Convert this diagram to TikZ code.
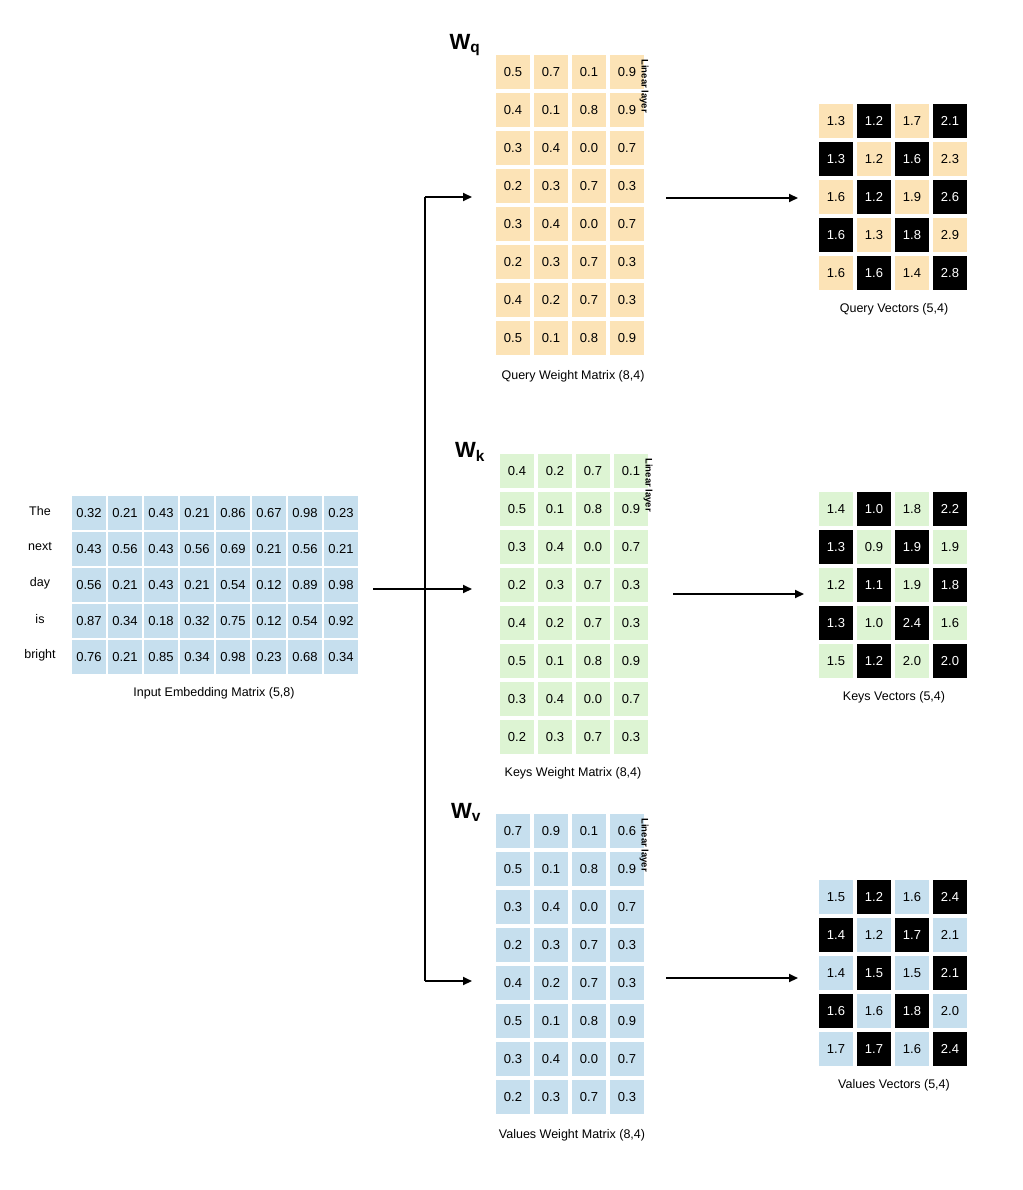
\documentclass[tikz,border=0pt]{standalone}
\usepackage{fontspec}
\setmainfont{Liberation Sans}
\usetikzlibrary{arrows.meta}
\definecolor{cy}{HTML}{FCE3B6}
\definecolor{cg}{HTML}{DDF4D3}
\definecolor{cb}{HTML}{C6DFEE}
\tikzset{
 cell/.style={minimum width=34pt,minimum height=34pt,inner sep=0pt,font=\fontsize{13}{15}\selectfont,draw=none},
 lbl/.style={font=\fontsize{12.5}{15}\selectfont},
 conn/.style={line width=2pt,-{Triangle[length=9pt,width=8pt]}},
 wl/.style={font=\fontsize{22}{24}\selectfont\bfseries},
 lin/.style={rotate=-90,font=\fontsize{9.5}{11}\selectfont\bfseries,anchor=north west}
}
% #1 name, #2 x0 center, #3 y0 center, #4 color, #5 rows list
\newcommand{\wmat}[5]{%
 \foreach \row [count=\r] in {#5}{%
  \foreach \v [count=\c] in \row{%
   \node[cell,fill=#4] (#1-\r-\c) at ({#2+(\c-1)*38},{#3+(\r-1)*38}) {\v};
  }}}
\newcommand{\vmat}[5]{%
 \foreach \row [count=\r] in {#5}{%
  \foreach \v [count=\c] in \row{%
   \pgfmathtruncatemacro{\odd}{mod(\r+\c,2)}
   \ifnum\odd=1
    \node[cell,fill=black,text=white] (#1-\r-\c) at ({#2+(\c-1)*38},{#3+(\r-1)*38}) {\v};
   \else
    \node[cell,fill=#4] (#1-\r-\c) at ({#2+(\c-1)*38},{#3+(\r-1)*38}) {\v};
   \fi
  }}}
\begin{document}
\begin{tikzpicture}[x=1pt,y=-1pt]
\useasboundingbox (0,0) rectangle (1022,1190);
% input
\foreach \row [count=\r] in {{0.32,0.21,0.43,0.21,0.86,0.67,0.98,0.23},{0.43,0.56,0.43,0.56,0.69,0.21,0.56,0.21},{0.56,0.21,0.43,0.21,0.54,0.12,0.89,0.98},{0.87,0.34,0.18,0.32,0.75,0.12,0.54,0.92},{0.76,0.21,0.85,0.34,0.98,0.23,0.68,0.34}}{%
 \foreach \v [count=\c] in \row{%
  \node[cell,fill=cb] (in-\r-\c) at ({89+(\c-1)*36},{513+(\r-1)*36}) {\v};
 }}
\foreach \w [count=\r] in {The,next,day,is,bright}
 \node[lbl] (word\r) at (40,{511+(\r-1)*36}) {\w};
\node[lbl] (inlab) at (214,693) {Input Embedding Matrix (5,8)};
% weight matrices
\wmat{q}{513}{72}{cy}{{0.5,0.7,0.1,0.9},{0.4,0.1,0.8,0.9},{0.3,0.4,0.0,0.7},{0.2,0.3,0.7,0.3},{0.3,0.4,0.0,0.7},{0.2,0.3,0.7,0.3},{0.4,0.2,0.7,0.3},{0.5,0.1,0.8,0.9}}
\wmat{k}{517}{471}{cg}{{0.4,0.2,0.7,0.1},{0.5,0.1,0.8,0.9},{0.3,0.4,0.0,0.7},{0.2,0.3,0.7,0.3},{0.4,0.2,0.7,0.3},{0.5,0.1,0.8,0.9},{0.3,0.4,0.0,0.7},{0.2,0.3,0.7,0.3}}
\wmat{v}{513}{831}{cb}{{0.7,0.9,0.1,0.6},{0.5,0.1,0.8,0.9},{0.3,0.4,0.0,0.7},{0.2,0.3,0.7,0.3},{0.4,0.2,0.7,0.3},{0.5,0.1,0.8,0.9},{0.3,0.4,0.0,0.7},{0.2,0.3,0.7,0.3}}
\node[lbl] (qlab) at (573,376) {Query Weight Matrix (8,4)};
\node[lbl] (klab) at (573,773) {Keys Weight Matrix (8,4)};
\node[lbl] (vlab) at (572,1135) {Values Weight Matrix (8,4)};
\node[wl] (wq) at (465,45) {W\textsubscript{q}};
\node[wl] (wk) at (470,452) {W\textsubscript{k}};
\node[wl] (wv) at (466,812) {W\textsubscript{v}};
\node[lin] (lq) at (652,56) {Linear layer};
\node[lin] (lk) at (656,455) {Linear layer};
\node[lin] (lv) at (652,815) {Linear layer};
% vectors
\vmat{qv}{836}{121}{cy}{{1.3,1.2,1.7,2.1},{1.3,1.2,1.6,2.3},{1.6,1.2,1.9,2.6},{1.6,1.3,1.8,2.9},{1.6,1.6,1.4,2.8}}
\vmat{kv}{836}{509}{cg}{{1.4,1.0,1.8,2.2},{1.3,0.9,1.9,1.9},{1.2,1.1,1.9,1.8},{1.3,1.0,2.4,1.6},{1.5,1.2,2.0,2.0}}
\vmat{vv}{836}{897}{cb}{{1.5,1.2,1.6,2.4},{1.4,1.2,1.7,2.1},{1.4,1.5,1.5,2.1},{1.6,1.6,1.8,2.0},{1.7,1.7,1.6,2.4}}
\node[lbl] (qvl) at (894,309) {Query Vectors (5,4)};
\node[lbl] (kvl) at (894,697) {Keys Vectors (5,4)};
\node[lbl] (vvl) at (894,1085) {Values Vectors (5,4)};
% connectors
\coordinate (s) at (373,589);
\coordinate (j) at (425,589);
\coordinate (jt) at (425,197);
\coordinate (jb) at (425,981);
\coordinate (qa) at (472,197);
\coordinate (ka) at (472,589);
\coordinate (va) at (472,981);
\draw[line width=2pt] (s) -- (j);
\draw[line width=1.6pt] (jt) -- (jb);
\draw[conn] (jt) -- (qa);
\draw[conn] (j) -- (ka);
\draw[conn] (jb) -- (va);
\coordinate (q1) at (666,198); \coordinate (q2) at (798,198);
\coordinate (k1) at (673,594); \coordinate (k2) at (804,594);
\coordinate (v1) at (666,978); \coordinate (v2) at (798,978);
\draw[conn] (q1) -- (q2);
\draw[conn] (k1) -- (k2);
\draw[conn] (v1) -- (v2);
\end{tikzpicture}
\end{document}
